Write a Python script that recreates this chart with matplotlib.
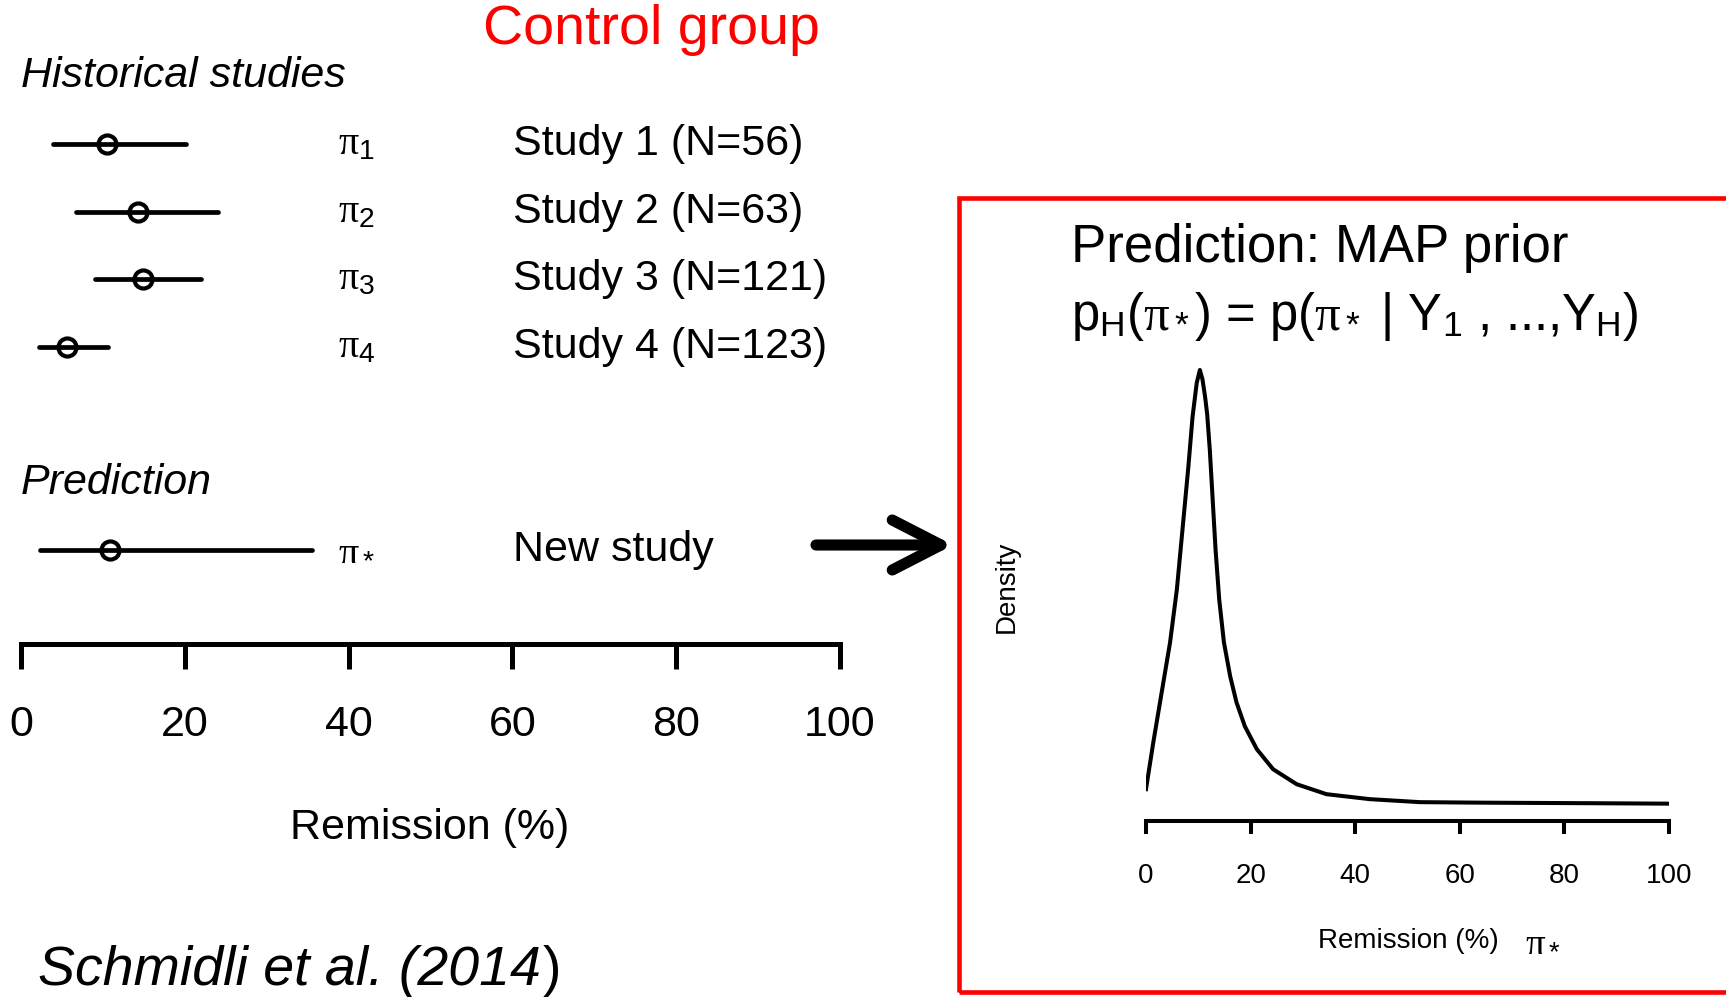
import numpy as np
import matplotlib
matplotlib.use('Agg')
import matplotlib.pyplot as plt
from matplotlib.patches import Rectangle

plt.rcParams['font.family'] = 'Liberation Sans'
plt.rcParams['mathtext.fontset'] = 'custom'
plt.rcParams['mathtext.rm'] = 'Liberation Sans'
plt.rcParams['mathtext.it'] = 'Liberation Serif'

# historical studies: point estimate and interval (remission %)
studies = ['Study 1 (N=56)', 'Study 2 (N=63)', 'Study 3 (N=121)', 'Study 4 (N=123)']
study_symbols = [r'$\pi_\mathrm{1}$', r'$\pi_\mathrm{2}$', r'$\pi_\mathrm{3}$', r'$\pi_\mathrm{4}$']
est = [10.5, 14.3, 14.9, 5.6]
lo = [3.9, 6.7, 9.0, 2.2]
hi = [20.1, 24.0, 22.0, 10.6]

# predictive interval for the new study
pred_est = 10.9
pred_lo = 2.3
pred_hi = 35.5

# MAP prior density
dens_x = [0, 1.4, 3.0, 4.6, 5.9, 7.1, 8.1, 8.9, 9.7, 10.3, 10.8, 11.3, 11.7, 12.2,
          12.75, 13.3, 14.0, 14.9, 16.1, 17.3, 18.9, 21.2, 24.3, 28.8, 34.5, 42.8,
          52.4, 64, 83, 100]
dens_y = [0.0064, 0.0158, 0.0258, 0.0358, 0.0464, 0.0598, 0.0710, 0.0810, 0.0878,
          0.0904, 0.0885, 0.0850, 0.0815, 0.0744, 0.0644, 0.0544, 0.0444, 0.0358,
          0.0290, 0.0238, 0.0190, 0.0144, 0.0104, 0.0074, 0.0054, 0.0044, 0.0038,
          0.0037, 0.0036, 0.0035]

ticks = [0, 20, 40, 60, 80, 100]

W, H = 1726, 997
fig = plt.figure(figsize=(W / 100, H / 100), dpi=100)
fig.patch.set_facecolor('white')

def fx(px):
    return px / W

def fy(py):
    return 1 - py / H

# ---------------- left panel ----------------
ax = fig.add_axes([fx(21), fy(644), fx(840) - fx(21), fy(42.45) - fy(644)])
ax.set_xlim(0, 100)
ax.set_ylim(7.385, -1.5)
rows = np.arange(len(studies))
pred_row = 6

for r, e, l, h in zip(rows, est, lo, hi):
    ax.plot([l, h], [r, r], color='black', lw=3.4, solid_capstyle='round', clip_on=False)
    ax.plot(e, r, 'o', ms=13, mfc='none', mec='black', mew=3, clip_on=False)
ax.plot([pred_lo, pred_hi], [pred_row, pred_row], color='black', lw=3.4,
        solid_capstyle='round', clip_on=False)
ax.plot(pred_est, pred_row, 'o', ms=13, mfc='none', mec='black', mew=3, clip_on=False)

for r, s, lab in zip(rows, study_symbols, studies):
    ax.text(38.7, r + 0.15, s, fontsize=29, va='baseline', ha='left')
    ax.text(60.1, r, lab, fontsize=31, va='center', ha='left')
ax.text(38.7, pred_row + 0.15, r'$\pi_*$', fontsize=29, va='baseline', ha='left')
ax.text(60.1, pred_row, 'New study', fontsize=31, va='center', ha='left')

ax.text(0, -1, 'Historical studies', fontsize=31, style='italic', va='center', ha='left')
ax.text(0, 5, 'Prediction', fontsize=31, style='italic', va='center', ha='left')

for sp in ['left', 'right', 'top']:
    ax.spines[sp].set_visible(False)
ax.spines['bottom'].set_linewidth(3.6)
ax.set_yticks([])
ax.set_xticks(ticks)
ax.tick_params(axis='x', direction='out', length=18, width=3.6, labelsize=31, pad=26)
ax.patch.set_alpha(0)

fig.text(fx(430), fy(828), 'Remission (%)', fontsize=31, ha='center', va='center')
fig.text(fx(651), fy(30), 'Control group', fontsize=40, color='#ff0000', ha='center', va='center')

# arrow to the right panel
ax.annotate('', xy=(fx(953), fy(545)), xytext=(fx(816), fy(545)),
            xycoords='figure fraction', textcoords='figure fraction',
            arrowprops=dict(arrowstyle='->,head_length=3.5,head_width=1.8', lw=8,
                            color='black', shrinkA=0, shrinkB=0, mutation_scale=10,
                            capstyle='round', joinstyle='round'))

# ---------------- right panel ----------------
fig.add_artist(Rectangle((fx(959), fy(992)), fx(1740) - fx(959), fy(198) - fy(992),
                         transform=fig.transFigure, fill=False, edgecolor='#ff0000',
                         lw=3.3, clip_on=False))

ax2 = fig.add_axes([fx(1146), fy(821), fx(1669) - fx(1146), fy(352.6) - fy(821)])
ax2.plot(dens_x, dens_y, color='black', lw=2.9)
dmin, dmax = min(dens_y), max(dens_y)
rng = dmax - dmin
ax2.set_ylim(dmin - 0.04 * rng, dmax + 0.04 * rng)
ax2.set_xlim(0, 100)
for sp in ['left', 'right', 'top']:
    ax2.spines[sp].set_visible(False)
ax2.spines['bottom'].set_linewidth(2.9)
ax2.set_yticks([])
ax2.set_xticks(ticks)
ax2.tick_params(axis='x', direction='out', length=9.4, width=2.9, labelsize=20, pad=21)
ax2.patch.set_alpha(0)

fig.text(fx(1071), fy(262), 'Prediction: MAP prior', fontsize=38, ha='left', va='baseline')
fig.text(fx(1071), fy(330),
         r'p$_\mathrm{H}$($\pi_*$) = p($\pi_*$ | Y$_\mathrm{1}$ , ...,Y$_\mathrm{H}$)',
         fontsize=36.5, ha='left', va='baseline')
fig.text(fx(1007), fy(587), 'Density', fontsize=20, rotation=90, ha='center', va='center')
fig.text(fx(1408), fy(941), 'Remission (%)', fontsize=20, ha='center', va='center')
fig.text(fx(1525), fy(941), r'$\pi_*$', fontsize=28, ha='left', va='center')

# citation
cite = fig.text(fx(38), fy(971), 'Schmidli et al. (2014', fontsize=40, style='italic',
                ha='left', va='center')
fig.canvas.draw()
bb = cite.get_window_extent()
fig.text(bb.x1 / W + 0.001, fy(971), ')', fontsize=40, ha='left', va='center')

fig.savefig('out.png', dpi=100, facecolor='white')
